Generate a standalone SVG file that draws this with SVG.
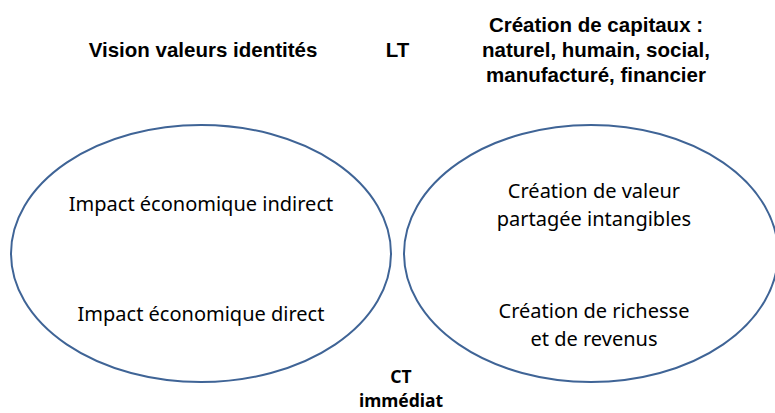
<svg xmlns="http://www.w3.org/2000/svg" width="775" height="413" viewBox="0 0 775 413">
<style>
.hd{font-family:"Liberation Sans",Arial,sans-serif;font-weight:bold;font-size:20.5px;fill:#000;}
.bd{font-family:"Noto Sans","Open Sans",sans-serif;font-size:20px;fill:#000;}
.bb{font-family:"Noto Sans","Open Sans",sans-serif;font-weight:bold;font-size:17.5px;fill:#000;}
.el{fill:none;stroke:#3F6496;stroke-width:2;}
</style>
<rect width="775" height="413" fill="#fff"/>
<g id="vision"><text class="hd" x="203" y="57" text-anchor="middle">Vision valeurs identités</text></g>
<g id="lt"><text class="hd" x="397.5" y="57" text-anchor="middle">LT</text></g>
<g id="capitaux">
<text class="hd" x="596" y="32" text-anchor="middle">Création de capitaux :</text>
<text class="hd" x="596" y="57" text-anchor="middle">naturel, humain, social,</text>
<text class="hd" x="596" y="82" text-anchor="middle">manufacturé, financier</text>
</g>
<g id="impact">
<ellipse class="el" cx="201" cy="253.5" rx="190" ry="128.5"/>
<text class="bd" x="201" y="211" text-anchor="middle">Impact économique indirect</text>
<text class="bd" x="201" y="321" text-anchor="middle">Impact économique direct</text>
</g>
<g id="creation">
<ellipse class="el" cx="591" cy="253.5" rx="187" ry="128.5"/>
<text class="bd" x="594" y="198" text-anchor="middle">Création de valeur</text>
<text class="bd" x="594" y="226" text-anchor="middle">partagée intangibles</text>
<text class="bd" x="594" y="318" text-anchor="middle">Création de richesse</text>
<text class="bd" x="594" y="346" text-anchor="middle">et de revenus</text>
</g>
<g id="ct">
<text class="bb" x="401" y="383" text-anchor="middle">CT</text>
<text class="bb" x="401" y="407" text-anchor="middle">immédiat</text>
</g>
<g id="connectors"></g>
</svg>
